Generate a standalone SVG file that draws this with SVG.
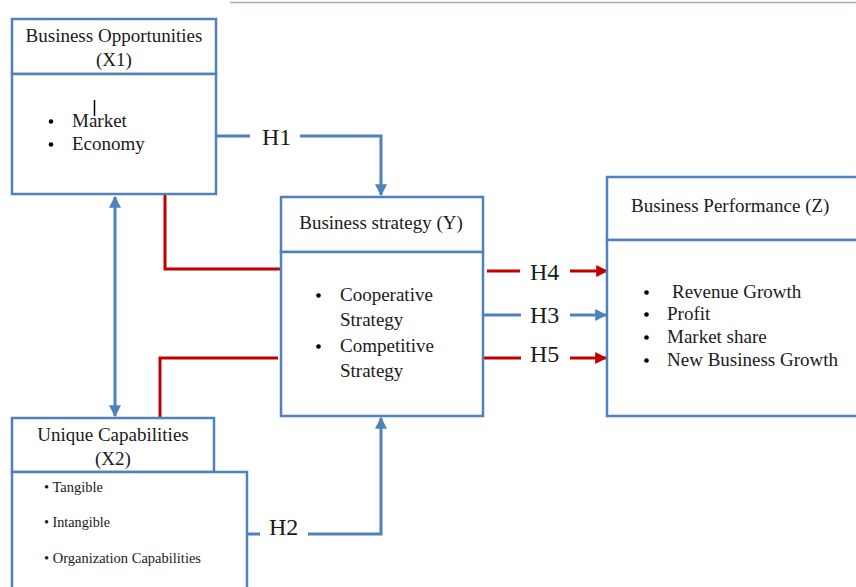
<svg xmlns="http://www.w3.org/2000/svg" width="856" height="587" viewBox="0 0 856 587">
<style>
.box{fill:#fff;stroke:#4f81bd;stroke-width:2.5}
.t{font-family:'Liberation Serif','Times New Roman','DejaVu Serif',serif;fill:#1a1a1a}
.h{font-size:19px}
.b{font-size:19px}
.s{font-size:14px}
.lab{font-family:'Liberation Serif','Times New Roman','DejaVu Serif',serif;font-size:24px;fill:#1a1a1a}
.bl{fill:none;stroke:#4f81bd;stroke-width:3}
.rd{fill:none;stroke:#c00000;stroke-width:3}
.dot{fill:#000}
</style>
<defs>
<marker id="ab" viewBox="0 0 10 10" refX="9" refY="5" markerWidth="4" markerHeight="4" orient="auto-start-reverse" markerUnits="strokeWidth"><path d="M0,0L10,5L0,10z" fill="#4f81bd"/></marker>
<marker id="ar" viewBox="0 0 10 10" refX="9" refY="5" markerWidth="4" markerHeight="4" orient="auto" markerUnits="strokeWidth"><path d="M0,0L10,5L0,10z" fill="#c00000"/></marker>
</defs>
<rect width="856" height="587" fill="#fff"/>
<line x1="230" y1="2.5" x2="856" y2="2.5" stroke="#a9afb8" stroke-width="1.5"/>
<g id="connectors">
<polyline class="bl" points="216,136 250,136"/>
<polyline class="bl" points="300,136 381,136 381,195" marker-end="url(#ab)"/>
<line class="bl" x1="115" y1="197" x2="115" y2="416" marker-start="url(#ab)" marker-end="url(#ab)"/>
<polyline class="rd" points="165,194 165,269 280,269"/>
<polyline class="rd" points="160,418 160,358 278,358"/>
<polyline class="bl" points="247,534 260,534"/>
<polyline class="bl" points="308,534 381,534 381,418" marker-end="url(#ab)"/>
<line class="rd" x1="487" y1="271" x2="520" y2="271"/>
<line class="rd" x1="570" y1="271" x2="607" y2="271" marker-end="url(#ar)"/>
<line class="bl" x1="483" y1="315" x2="521" y2="315"/>
<line class="bl" x1="570" y1="315" x2="606" y2="315" marker-end="url(#ab)"/>
<line class="rd" x1="483" y1="358" x2="521" y2="358"/>
<line class="rd" x1="570" y1="358" x2="606" y2="358" marker-end="url(#ar)"/>
<text class="lab" x="262" y="145">H1</text>
<text class="lab" x="269" y="535">H2</text>
<text class="lab" x="530" y="323">H3</text>
<text class="lab" x="530" y="280">H4</text>
<text class="lab" x="530" y="362">H5</text>
</g>
<g id="x1">
<rect class="box" x="12" y="19" width="204" height="55"/>
<rect class="box" x="12" y="74" width="204" height="120"/>
<text class="t h" x="114" y="42" text-anchor="middle">Business Opportunities</text>
<text class="t h" x="114" y="66" text-anchor="middle">(X1)</text>
<circle class="dot" cx="51" cy="121.5" r="2.3"/>
<text class="t b" x="72" y="127">Market</text>
<circle class="dot" cx="51" cy="144.5" r="2.3"/>
<text class="t b" x="72" y="150">Economy</text>
<line x1="94.5" y1="100" x2="94.5" y2="116" stroke="#000" stroke-width="1.5"/>
</g>
<g id="y">
<rect class="box" x="281" y="197" width="202" height="55"/>
<rect class="box" x="281" y="252" width="202" height="164"/>
<text class="t h" x="381" y="229" text-anchor="middle">Business strategy (Y)</text>
<circle class="dot" cx="318.5" cy="295.5" r="2.3"/>
<text class="t b" x="340" y="301">Cooperative</text>
<text class="t b" x="340" y="326">Strategy</text>
<circle class="dot" cx="318.5" cy="346.5" r="2.3"/>
<text class="t b" x="340" y="352">Competitive</text>
<text class="t b" x="340" y="377">Strategy</text>
</g>
<g id="z">
<rect class="box" x="607" y="177" width="260" height="63"/>
<rect class="box" x="607" y="240" width="260" height="176"/>
<text class="t h" x="631" y="212">Business Performance (Z)</text>
<circle class="dot" cx="646.5" cy="292.5" r="2.3"/>
<text class="t b" x="672" y="298">Revenue Growth</text>
<circle class="dot" cx="646.5" cy="314.5" r="2.3"/>
<text class="t b" x="667" y="320">Profit</text>
<circle class="dot" cx="646.5" cy="337.5" r="2.3"/>
<text class="t b" x="667" y="343">Market share</text>
<circle class="dot" cx="646.5" cy="360.5" r="2.3"/>
<text class="t b" x="667" y="366">New Business Growth</text>
</g>
<g id="x2">
<rect class="box" x="12" y="418" width="202" height="54"/>
<rect class="box" x="12" y="472" width="235" height="130"/>
<text class="t h" x="113" y="441" text-anchor="middle">Unique Capabilities</text>
<text class="t h" x="113" y="465" text-anchor="middle">(X2)</text>
<text class="t s" x="44" y="492" textLength="59" lengthAdjust="spacingAndGlyphs">• Tangible</text>
<text class="t s" x="44" y="527" textLength="66" lengthAdjust="spacingAndGlyphs">• Intangible</text>
<text class="t s" x="44" y="563" textLength="157" lengthAdjust="spacingAndGlyphs">• Organization Capabilities</text>
</g>
</svg>
